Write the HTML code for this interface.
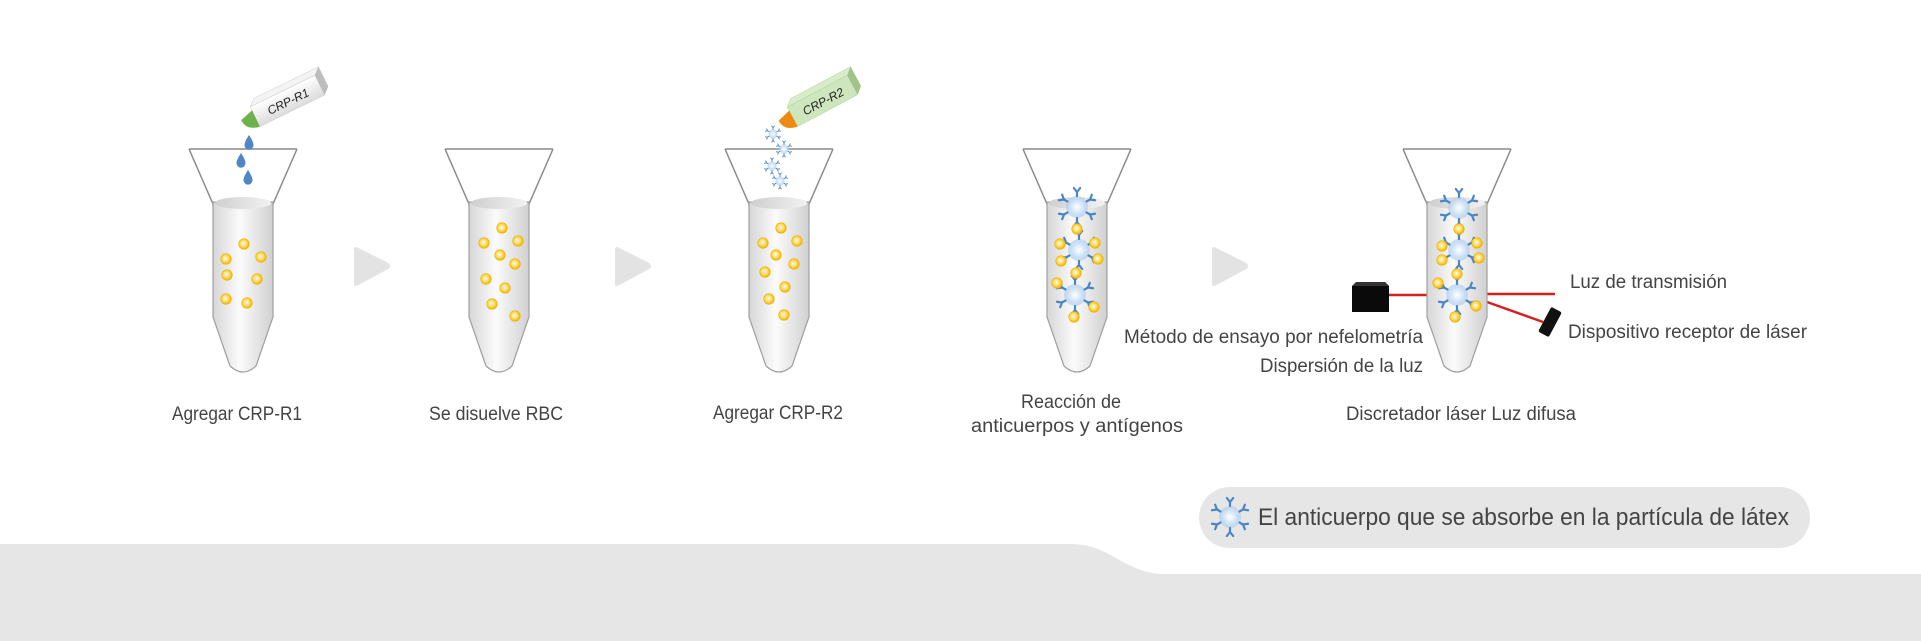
<!DOCTYPE html>
<html><head><meta charset="utf-8"><style>
html,body{margin:0;padding:0;background:#fff}
svg{display:block}
text{font-family:"Liberation Sans",sans-serif;fill:#444}
</style></head><body>
<svg width="1921" height="641" viewBox="0 0 1921 641" xmlns="http://www.w3.org/2000/svg">
<defs>
<linearGradient id="tg" x1="0" x2="1" y1="0" y2="0">
<stop offset="0" stop-color="#d6d6d6"/><stop offset="0.45" stop-color="#fbfbfb"/><stop offset="1" stop-color="#d0d0d0"/></linearGradient>
<linearGradient id="rim" x1="0" x2="1"><stop offset="0" stop-color="#cfcfcf"/><stop offset="1" stop-color="#f2f2f2"/></linearGradient>
<radialGradient id="yg" cx="0.45" cy="0.45" r="0.55"><stop offset="0" stop-color="#fffbe6"/><stop offset="0.45" stop-color="#ffe27a"/><stop offset="1" stop-color="#f0b400"/></radialGradient>
<radialGradient id="bg" cx="0.5" cy="0.5" r="0.5"><stop offset="0" stop-color="#ffffff"/><stop offset="0.6" stop-color="#cfe3f7"/><stop offset="1" stop-color="#a9c9ec" stop-opacity="0.6"/></radialGradient>
<linearGradient id="bw" x1="0" y1="0" x2="0" y2="1"><stop offset="0" stop-color="#ffffff"/><stop offset="1" stop-color="#dcdcdc"/></linearGradient>
<g id="tube">
<path d="M-54,149 L-30,204 M54,149 L30,204 M-54,149 L54,149" stroke="#8a8a8a" stroke-width="1.5" fill="none"/>
<path d="M-30,202 L-30,317 L-13,366 Q0,378 13,366 L30,317 L30,202 Z" fill="url(#tg)" stroke="#a0a0a0" stroke-width="1.2"/>
<ellipse cx="0" cy="203" rx="28" ry="6" fill="url(#rim)"/>
</g>
<circle id="p" r="5.3" fill="url(#yg)" stroke="#f0b400" stroke-width="0.6"/>
<g id="y"><path d="M0,-11 L0,-15 M0,-15 L-3.2,-19 M0,-15 L3.2,-19" stroke="#4a86c5" stroke-width="2.2" fill="none" stroke-linecap="round"/></g>
<g id="ab">
<circle r="11" fill="url(#bg)"/>
<use href="#y"/><use href="#y" transform="rotate(60)"/><use href="#y" transform="rotate(120)"/><use href="#y" transform="rotate(180)"/><use href="#y" transform="rotate(240)"/><use href="#y" transform="rotate(300)"/>
</g>
<g id="drop"><path d="M0,-7 Q6,2 4,5 A4.3,4.3 0 0 1 -4,5 Q-6,2 0,-7Z" fill="#4f87c4"/></g>
</defs>

<path d="M0,544 L1072,544 C1110,544 1125,574 1165,574 L1921,574 L1921,641 L0,641 Z" fill="#e6e6e6"/>

<path d="M356,249 L386,264 Q390,266 386,268 L356,284 Z" fill="#e3e3e3" stroke="#e3e3e3" stroke-width="4" stroke-linejoin="round"/>
<path d="M617,249 L647,264 Q651,266 647,268 L617,284 Z" fill="#e3e3e3" stroke="#e3e3e3" stroke-width="4" stroke-linejoin="round"/>
<path d="M1214,249 L1244,264 Q1248,266 1244,268 L1214,284 Z" fill="#e3e3e3" stroke="#e3e3e3" stroke-width="4" stroke-linejoin="round"/>

<g transform="translate(243,0)">
<use href="#tube"/>
<use href="#p" x="1" y="244"/><use href="#p" x="-17" y="259"/><use href="#p" x="18" y="257"/><use href="#p" x="-16" y="275"/><use href="#p" x="14" y="279"/><use href="#p" x="-17" y="299"/><use href="#p" x="4" y="303"/>
</g>
<g transform="translate(287,100) rotate(-26)">
<path d="M-36,-10 L36,-10 L43,-16 L-29,-16 Z" fill="#f4f4f4" stroke="#ccc" stroke-width="0.5"/>
<rect x="-36" y="-10" width="72" height="22" fill="url(#bw)" stroke="#ccc" stroke-width="0.5"/>
<path d="M36,-10 L43,-16 L43,6 L36,12 Z" fill="#bdbdbd"/>
<path d="M-36,-6 L-50,-2 Q-50,10 -36,12 Z" fill="#6db24a"/>
<text x="-22" y="6" font-size="12" font-style="italic" style="fill:#222">CRP-R1</text>
</g>
<use href="#drop" x="249" y="142"/><use href="#drop" x="241" y="160"/><use href="#drop" x="248" y="177"/>

<g transform="translate(499,0)">
<use href="#tube"/>
<use href="#p" x="3" y="228"/><use href="#p" x="-15" y="243"/><use href="#p" x="19" y="241"/><use href="#p" x="1" y="255"/><use href="#p" x="16" y="264"/><use href="#p" x="-13" y="279"/><use href="#p" x="6" y="288"/><use href="#p" x="-7" y="304"/><use href="#p" x="16" y="316"/>
</g>

<g transform="translate(779,0)">
<use href="#tube"/>
<use href="#p" x="2" y="228"/><use href="#p" x="-16" y="243"/><use href="#p" x="18" y="241"/><use href="#p" x="-3" y="255"/><use href="#p" x="15" y="264"/><use href="#p" x="-14" y="272"/><use href="#p" x="6" y="287"/><use href="#p" x="-10" y="299"/><use href="#p" x="5" y="315"/>
</g>
<g transform="translate(822,100) rotate(-28)">
<path d="M-34,-10 L34,-10 L41,-16 L-27,-16 Z" fill="#d8ecc9" stroke="#b5d3a0" stroke-width="0.5"/>
<rect x="-34" y="-10" width="68" height="22" fill="#cde6bd" stroke="#b5d3a0" stroke-width="0.5"/>
<path d="M34,-10 L41,-16 L41,6 L34,12 Z" fill="#9fc486"/>
<path d="M-34,-6 L-48,-2 Q-48,10 -34,12 Z" fill="#ec8a12"/>
<text x="-22" y="6" font-size="12" font-style="italic" style="fill:#222">CRP-R2</text>
</g>
<g transform="translate(773,134) scale(0.42)"><use href="#ab"/></g>
<g transform="translate(784,149) scale(0.42)"><use href="#ab"/></g>
<g transform="translate(772,166) scale(0.42)"><use href="#ab"/></g>
<g transform="translate(780,181) scale(0.42)"><use href="#ab"/></g>

<g transform="translate(1077,0)">
<use href="#tube"/>
<use href="#ab" x="0" y="207"/><use href="#ab" x="2" y="250"/><use href="#ab" x="-2" y="295"/>
<use href="#p" x="0" y="229"/><use href="#p" x="-17" y="244"/><use href="#p" x="18" y="243"/><use href="#p" x="-16" y="261"/><use href="#p" x="21" y="259"/><use href="#p" x="-1" y="273"/><use href="#p" x="-20" y="283"/><use href="#p" x="17" y="307"/><use href="#p" x="-3" y="317"/>
</g>

<line x1="1389" y1="295" x2="1429" y2="295" stroke="#d81f1f" stroke-width="2.5"/>
<line x1="1487" y1="294" x2="1555" y2="294" stroke="#d81f1f" stroke-width="2.5"/>
<line x1="1487" y1="302" x2="1543" y2="322" stroke="#d81f1f" stroke-width="2.5"/>
<g transform="translate(1457,0)">
<use href="#tube"/>
<use href="#ab" x="2" y="208"/><use href="#ab" x="2" y="250"/><use href="#ab" x="0" y="295"/>
<use href="#p" x="2" y="229"/><use href="#p" x="-15" y="246"/><use href="#p" x="20" y="243"/><use href="#p" x="-15" y="260"/><use href="#p" x="22" y="258"/><use href="#p" x="0" y="274"/><use href="#p" x="-19" y="283"/><use href="#p" x="19" y="306"/><use href="#p" x="-2" y="317"/>
</g>
<path d="M1352,286 L1385,282 L1389,286 L1389,312 L1352,312 Z" fill="#0a0a0a"/>
<path d="M1352,286 L1356,282 L1385,282 L1389,286 Z" fill="#333"/>
<rect x="-6" y="-14" width="12" height="28" rx="2" fill="#111" transform="translate(1550,322) rotate(28)"/>

<text x="1570" y="288" font-size="19" textLength="157" lengthAdjust="spacingAndGlyphs">Luz de transmisión</text>
<text x="1568" y="338" font-size="19" textLength="239" lengthAdjust="spacingAndGlyphs">Dispositivo receptor de láser</text>
<text x="1124" y="343" font-size="19" textLength="299" lengthAdjust="spacingAndGlyphs">Método de ensayo por nefelometría</text>
<text x="1260" y="372" font-size="19" textLength="163" lengthAdjust="spacingAndGlyphs">Dispersión de la luz</text>

<text x="172" y="420" font-size="19" textLength="130" lengthAdjust="spacingAndGlyphs">Agregar CRP-R1</text>
<text x="429" y="420" font-size="19" textLength="134" lengthAdjust="spacingAndGlyphs">Se disuelve RBC</text>
<text x="713" y="419" font-size="19" textLength="130" lengthAdjust="spacingAndGlyphs">Agregar CRP-R2</text>
<text x="1021" y="408" font-size="19" textLength="100" lengthAdjust="spacingAndGlyphs">Reacción de</text>
<text x="971" y="432" font-size="19" textLength="212" lengthAdjust="spacingAndGlyphs">anticuerpos y antígenos</text>
<text x="1346" y="420" font-size="19" textLength="230" lengthAdjust="spacingAndGlyphs">Discretador láser Luz difusa</text>

<rect x="1199" y="487" width="611" height="61" rx="30.5" fill="#e6e6e6"/>
<use href="#ab" x="1230" y="517"/>
<text x="1258" y="525" font-size="24" textLength="531" lengthAdjust="spacingAndGlyphs">El anticuerpo que se absorbe en la partícula de látex</text>
</svg>
</body></html>
